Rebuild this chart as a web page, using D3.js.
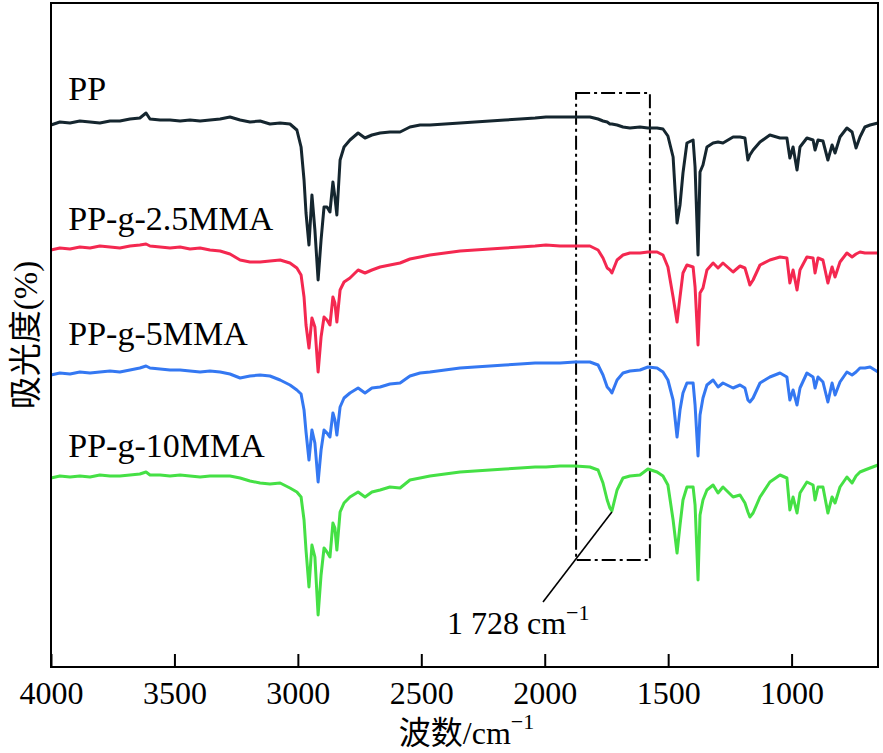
<!DOCTYPE html>
<html><head><meta charset="utf-8">
<script src="https://cdn.jsdelivr.net/npm/d3@7"></script>
<style>
html,body{margin:0;padding:0;background:#fff;}
svg{display:block;}
text{font-family:"Liberation Serif","Times New Roman",serif;fill:#000;}
</style></head>
<body><svg id="chart" width="883" height="753"></svg>
<script>
// Wavenumbers (cm^-1)
const wavenumbers = [4000,3964,3923,3883,3842,3802,3761,3721,3680,3640,3615,3599,3558,3518,3477,3437,3396,3356,3315,3275,3234,3194,3153,3113,3072,3032,3004,2987,2975,2967,2955,2943,2931,2918,2906,2894,2882,2870,2858,2850,2842,2829,2813,2789,2756,2728,2700,2667,2627,2586,2546,2505,2465,2404,2343,2283,2222,2161,2100,2039,1995,1938,1877,1817,1784,1764,1747,1736,1728,1707,1683,1655,1614,1582,1545,1521,1501,1480,1464,1452,1440,1424,1399,1391,1379,1371,1359,1343,1318,1298,1278,1237,1209,1189,1177,1169,1156,1128,1088,1047,1019,1007,994,978,966,938,913,905,893,873,853,836,824,804,776,755,739,723,703,682,650];
// Offset signal (a.u.) for each sample
const seriesPP = [542,545,544,546,545,544,546,546,548,549,554,548,547,547,546,547,546,547,548,550,547,545,546,543,544,543,537,520,487,454,422,472,437,387,427,460,460,455,485,470,452,507,520,527,534,529,532,534,535,535,540,542,542,543,544,545,546,547,548,549,550,550,550,550,548,546,545,543,543,542,540,539,540,539,539,538,531,510,444,462,494,524,527,500,412,495,502,520,524,525,524,530,530,529,507,512,517,525,532,529,529,509,520,497,520,529,527,517,527,526,507,522,514,530,539,535,519,530,540,542,544];
const seriesPP25 = [417,419,418,420,419,421,420,419,421,422,423,421,420,419,420,418,419,417,416,413,407,405,405,406,407,404,399,392,370,342,319,349,340,295,330,350,347,342,370,364,345,377,385,389,397,394,397,400,402,404,408,410,412,414,416,417,418,419,420,421,422,421,421,421,417,409,399,397,394,407,412,414,414,415,415,412,400,370,345,370,394,402,400,380,322,374,379,397,404,399,404,395,401,399,389,382,387,402,407,410,409,384,397,377,397,410,409,394,409,407,384,400,390,405,414,410,413,415,414,414,414];
const seriesPP5 = [292,294,293,295,294,295,296,295,297,299,301,299,298,297,297,296,295,296,295,293,289,291,292,291,287,282,277,273,257,235,207,237,224,185,217,237,234,230,254,247,232,260,269,274,279,274,279,280,283,284,291,294,295,297,299,300,301,302,303,304,304,304,305,305,302,292,280,277,274,287,294,296,297,300,299,295,287,267,230,257,274,284,284,262,211,252,269,282,287,280,284,279,282,279,267,265,269,284,290,294,290,267,277,262,279,294,290,279,290,285,265,284,272,285,295,292,295,299,299,300,295];
const seriesPP10 = [189,191,190,191,190,192,191,191,192,193,195,192,192,191,192,191,190,191,191,191,189,186,184,183,184,179,175,170,147,117,80,122,110,52,92,119,115,110,144,139,117,155,164,170,175,170,175,177,180,179,187,189,191,193,195,196,197,198,199,200,200,201,201,200,197,184,167,159,156,177,189,191,192,198,195,191,182,147,114,142,167,180,180,162,87,152,167,177,182,174,180,170,172,164,155,150,154,170,185,192,189,157,170,154,174,185,182,167,180,180,154,170,164,180,190,184,191,195,197,199,202];
const seriesNames = ["PP","PP-g-2.5MMA","PP-g-5MMA","PP-g-10MMA"];
const seriesColors = ["#15262f","#f42850","#3478f2","#45e045"];
const xTicks = [4000,3500,3000,2500,2000,1500,1000];
const xDomain = [4000,650];
const yDomain = [0,664];
// label anchor: [wavenumber, signal]
const labelPos = [[3930,567],[3930,437],[3930,322],[3930,210]];
// highlight box and annotation
const boxWn = [1873,1574];
const boxSig = [107,574];
const annotPeak = [1728,155];
const annotEnd = [2007,65];
const annotText = "1 728 cm";

const svg = d3.select("#chart");
const L=51,R=878,T=3,B=667;
const x = d3.scaleLinear().domain(xDomain).range([L,R]);
const y = d3.scaleLinear().domain(yDomain).range([B,T]);

const allSeries = [seriesPP,seriesPP25,seriesPP5,seriesPP10];
const line = d3.line().x(d=>x(d[0])).y(d=>y(d[1]));

// box (dash-dot)
svg.append("rect")
  .attr("x",x(boxWn[0])).attr("y",y(boxSig[1]))
  .attr("width",x(boxWn[1])-x(boxWn[0])).attr("height",y(boxSig[0])-y(boxSig[1]))
  .attr("fill","none").attr("stroke","#000").attr("stroke-width",2)
  .attr("stroke-dasharray","14,4,3,4");

allSeries.forEach((s,i)=>{
  const pts = wavenumbers.map((w,j)=>[w,s[j]]);
  svg.append("path").datum(pts).attr("d",line)
    .attr("fill","none").attr("stroke",seriesColors[i]).attr("stroke-width",3)
    .attr("stroke-linejoin","round");
  svg.append("text").attr("x",x(labelPos[i][0])).attr("y",y(labelPos[i][1]))
    .attr("font-size",34).text(seriesNames[i]);
});

// annotation line
svg.append("line").attr("x1",x(annotPeak[0])).attr("y1",y(annotPeak[1]))
  .attr("x2",x(annotEnd[0])).attr("y2",y(annotEnd[1]))
  .attr("stroke","#000").attr("stroke-width",1.6);
const at = svg.append("text").attr("x",447).attr("y",634).attr("font-size",32);
at.append("tspan").text(annotText);
at.append("tspan").attr("dy",-14).attr("font-size",22).text("\u22121");

// frame
svg.append("rect").attr("x",L).attr("y",T).attr("width",R-L).attr("height",B-T)
  .attr("fill","none").attr("stroke","#000").attr("stroke-width",2);

// x axis
const ax = svg.append("g").attr("transform",`translate(0,${B})`)
  .call(d3.axisBottom(x).tickValues(xTicks).tickSizeInner(-13).tickSizeOuter(0).tickPadding(14).tickFormat(d3.format("d")));
ax.select(".domain").remove();
ax.selectAll("line").attr("stroke","#000").attr("stroke-width",2);
ax.selectAll("text").attr("font-size",32).attr("font-family","Liberation Serif");

// axis titles
const xt = svg.append("text").attr("x",(L+R)/2+2).attr("y",744).attr("text-anchor","middle").attr("font-size",32);
xt.append("tspan").attr("font-family","Noto Sans CJK SC").text("波数");
xt.append("tspan").text("/cm");
xt.append("tspan").attr("dy",-15).attr("font-size",22).text("\u22121");

const yt = svg.append("text").attr("transform",`translate(37,${(T+B)/2}) rotate(-90)`)
  .attr("text-anchor","middle").attr("font-size",33);
yt.append("tspan").attr("font-family","Noto Sans CJK SC").text("吸光度");
yt.append("tspan").text("(%)");
</script></body></html>
